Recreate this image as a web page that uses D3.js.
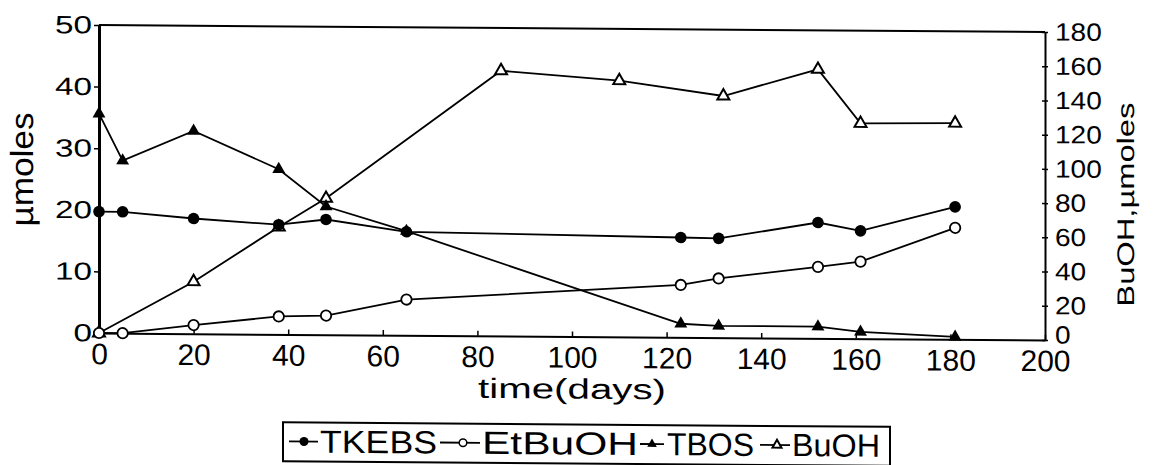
<!DOCTYPE html>
<html>
<head>
<meta charset="utf-8">
<script src="https://cdn.jsdelivr.net/npm/d3@7"></script>
<style>
  body { margin: 0; background: #fff; }
  svg { display: block; }
</style>
</head>
<body>
<script>
// values
var tkebsDays = [0, 5, 20, 38, 48, 65, 123, 131, 152, 161, 181];
var tkebsValues = [19.7, 19.7, 18.7, 17.8, 18.7, 16.8, 16.2, 16.1, 18.8, 17.5, 21.5];

var etbuohDays = [0, 5, 20, 38, 48, 65, 123, 131, 152, 161, 181];
var etbuohValues = [0, 0, 1.4, 2.9, 3.1, 5.8, 8.5, 9.6, 11.6, 12.5, 18.1];

var tbosDays = [0, 5, 20, 38, 48, 65, 123, 131, 152, 161, 181];
var tbosValues = [35.6, 28, 32.9, 26.8, 20.8, 16.9, 2.2, 1.9, 1.9, 1.1, 0.4];

// BuOH is on the right axis
var buohDays = [0, 20, 38, 48, 85, 110, 132, 152, 161, 181];
var buohValues = [0, 30.4, 62.7, 79.7, 155, 149.7, 141.2, 157.2, 125.8, 126.3];

var xTicks = [0, 20, 40, 60, 80, 100, 120, 140, 160, 180, 200];
var leftTicks = [0, 10, 20, 30, 40, 50];
var rightTicks = [0, 20, 40, 60, 80, 100, 120, 140, 160, 180];
var legendLabels = ["TKEBS", "EtBuOH", "TBOS", "BuOH"];

var w = 1154, h = 465;
var font = "'Liberation Sans', Arial, Helvetica, sans-serif";

var svg = d3.select("body").append("svg")
    .attr("width", w)
    .attr("height", h);

// the scan is slightly skewed, right side sits ~7px lower
var skew = 0.424;
var g = svg.append("g")
    .attr("transform", "translate(0," + (-99 * Math.tan(skew * Math.PI / 180)) + ") skewY(" + skew + ")")
    .style("font-family", font);

var x = d3.scaleLinear().domain([0, 200]).range([99, 1045]);
var yL = d3.scaleLinear().domain([0, 50]).range([333, 25]);
var yR = d3.scaleLinear().domain([0, 180]).range([333, 25]);

// top frame line
g.append("line")
    .attr("x1", x(0)).attr("x2", x(200))
    .attr("y1", yL(50)).attr("y2", yL(50))
    .attr("stroke", "#000").attr("stroke-width", 2);

// bottom axis
var xAxis = g.append("g")
    .attr("transform", "translate(0," + yL(0) + ")")
    .call(d3.axisBottom(x).tickValues(xTicks).tickSizeInner(-5).tickSizeOuter(0).tickPadding(10));
xAxis.select(".domain").attr("stroke-width", 2);
xAxis.selectAll(".tick line").attr("stroke-width", 1.5);
xAxis.selectAll("text").attr("font-size", 30).attr("fill", "#000");

// left axis
var lAxis = g.append("g")
    .attr("transform", "translate(" + x(0) + ",0)")
    .call(d3.axisLeft(yL).tickValues(leftTicks).tickSizeInner(5).tickSizeOuter(0).tickPadding(2));
lAxis.select(".domain").attr("stroke-width", 3);
lAxis.selectAll(".tick line").attr("stroke-width", 1.5);
lAxis.selectAll("text")
    .attr("font-size", 25)
    .attr("fill", "#000")
    .attr("lengthAdjust", "spacingAndGlyphs")
    .attr("textLength", function (d) { return String(d).length * 18.5; });

// right axis
var rAxis = g.append("g")
    .attr("transform", "translate(" + x(200) + ",0)")
    .call(d3.axisRight(yR).tickValues(rightTicks).tickSize(3).tickSizeOuter(0).tickPadding(7));
rAxis.select(".domain").attr("stroke-width", 2);
rAxis.selectAll(".tick line").attr("x1", -3).attr("stroke-width", 1.5);
rAxis.selectAll("text")
    .attr("font-size", 25)
    .attr("fill", "#000")
    .attr("lengthAdjust", "spacingAndGlyphs")
    .attr("textLength", function (d) { return String(d).length * 15.6; });
// the bottom "0" sits just above the "200" of the time axis
rAxis.selectAll("text").filter(function (d) { return d === 0; }).attr("dy", "0.12em");

// axis titles
g.append("text")
    .attr("transform", "translate(33,170) rotate(-90)")
    .attr("text-anchor", "middle")
    .attr("font-size", 32)
    .attr("textLength", 114)
    .attr("lengthAdjust", "spacingAndGlyphs")
    .text("\u00b5moles");

g.append("text")
    .attr("transform", "translate(1134,197) rotate(-90)")
    .attr("text-anchor", "middle")
    .attr("font-size", 24)
    .attr("textLength", 204)
    .attr("lengthAdjust", "spacingAndGlyphs")
    .text("BuOH,\u00b5moles");

g.append("text")
    .attr("x", 572).attr("y", 395)
    .attr("text-anchor", "middle")
    .attr("font-size", 28)
    .attr("textLength", 188)
    .attr("lengthAdjust", "spacingAndGlyphs")
    .text("time(days)");

// series
var series = [
    { days: buohDays, vals: buohValues, y: yR, mark: "otri" },
    { days: tbosDays, vals: tbosValues, y: yL, mark: "ftri" },
    { days: etbuohDays, vals: etbuohValues, y: yL, mark: "ocirc" },
    { days: tkebsDays, vals: tkebsValues, y: yL, mark: "fcirc" }
];

var tri = d3.symbol().type(d3.symbolTriangle);

function drawMark(sel, kind, small) {
    if (kind == "fcirc") {
        sel.append("circle").attr("r", small ? 4.5 : 5.8).attr("fill", "#000");
    } else if (kind == "ocirc") {
        sel.append("circle").attr("r", small ? 3.8 : 5.2).attr("fill", "#fff")
            .attr("stroke", "#000").attr("stroke-width", small ? 1.5 : 1.8);
    } else if (kind == "ftri") {
        sel.append("path").attr("d", tri.size(small ? 40 : 72)()).attr("fill", "#000");
    } else {
        sel.append("path").attr("d", tri.size(small ? 35 : 62)()).attr("fill", "#fff")
            .attr("stroke", "#000").attr("stroke-width", 2);
    }
}

series.forEach(function (s) {
    var pts = d3.zip(s.days, s.vals);
    g.append("path")
        .datum(pts)
        .attr("fill", "none")
        .attr("stroke", "#000")
        .attr("stroke-width", 1.8)
        .attr("d", d3.line().x(function (d) { return x(d[0]); }).y(function (d) { return s.y(d[1]); }));
});

series.forEach(function (s) {
    var pts = d3.zip(s.days, s.vals);
    g.selectAll(null)
        .data(pts)
        .enter()
        .append("g")
        .attr("transform", function (d) { return "translate(" + x(d[0]) + "," + s.y(d[1]) + ")"; })
        .each(function () { drawMark(d3.select(this), s.mark, false); });
});

// legend
var legend = g.append("g");
legend.append("rect")
    .attr("x", 283).attr("y", 421)
    .attr("width", 607).attr("height", 39)
    .attr("fill", "#fff").attr("stroke", "#000").attr("stroke-width", 2);

var legendMarks = ["fcirc", "ocirc", "ftri", "otri"];
var legendPos = [
    { l0: 289, l1: 318, m: 304, t: 320, len: 117 },
    { l0: 440, l1: 480, m: 463, t: 482, len: 156 },
    { l0: 640, l1: 664, m: 652, t: 667, len: 87 },
    { l0: 760, l1: 790, m: 777, t: 792, len: 88 }
];

legendLabels.forEach(function (name, i) {
    var p = legendPos[i];
    legend.append("line")
        .attr("x1", p.l0).attr("x2", p.l1)
        .attr("y1", 440).attr("y2", 440)
        .attr("stroke", "#000").attr("stroke-width", 1.8);
    var m = legend.append("g").attr("transform", "translate(" + p.m + ",440)");
    drawMark(m, legendMarks[i], true);
    legend.append("text")
        .attr("x", p.t).attr("y", 451)
        .attr("font-size", 32)
        .attr("textLength", p.len)
        .attr("lengthAdjust", "spacingAndGlyphs")
        .text(name);
});
</script>
</body>
</html>
